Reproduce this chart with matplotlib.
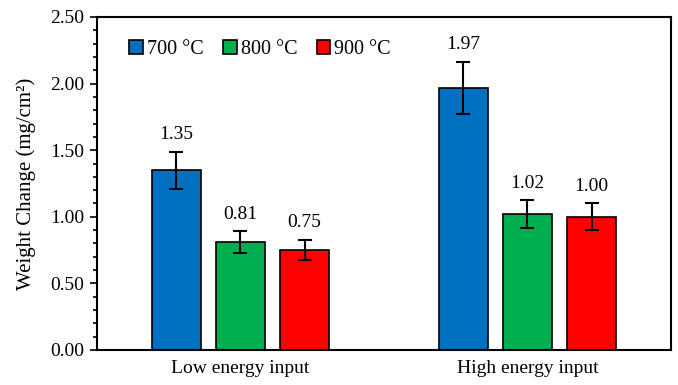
import matplotlib
matplotlib.use("Agg")
import matplotlib.pyplot as plt
import numpy as np
from matplotlib.ticker import MultipleLocator, FormatStrFormatter
from matplotlib.patches import Patch

plt.rcParams['font.family'] = ['Liberation Serif', 'DejaVu Serif']

groups = ["Low energy input", "High energy input"]
series = ["700 °C", "800 °C", "900 °C"]
values = {
    "700 °C": [1.35, 1.97],
    "800 °C": [0.81, 1.02],
    "900 °C": [0.75, 1.00],
}
errors = {
    "700 °C": [0.14, 0.195],
    "800 °C": [0.08, 0.105],
    "900 °C": [0.078, 0.10],
}
colors = ["#0070C0", "#00B050", "#FF0000"]

fig = plt.figure(figsize=(6.78, 3.85), dpi=100)
ax = fig.add_axes([97/678, 1-350/385, 574/678, 333/385])

x = np.arange(len(groups))
width = 0.174
offset = 0.223
for i, s in enumerate(series):
    xs = x + (i - 1) * offset
    ax.bar(xs, values[s], width, color=colors[i], edgecolor='black', linewidth=1.2, zorder=2)
    ax.errorbar(xs, values[s], yerr=errors[s], fmt='none', ecolor='black',
                elinewidth=1.5, capsize=5, capthick=1.5, zorder=3)
    for xi, v, e in zip(xs, values[s], errors[s]):
        ax.annotate(f"{v:.2f}", (xi, v + e), xytext=(0, 6), textcoords='offset points',
                    ha='center', va='bottom', fontsize=14)

ax.set_xlim(-0.5, 1.5)
ax.set_ylim(0, 2.5)
ax.yaxis.set_major_locator(MultipleLocator(0.5))
ax.yaxis.set_minor_locator(MultipleLocator(0.1))
ax.yaxis.set_major_formatter(FormatStrFormatter('%.2f'))
ax.set_xticks(x)
ax.set_xticklabels(groups, fontsize=14)
ax.tick_params(axis='x', length=0, pad=7)
ax.tick_params(axis='y', which='major', length=5, width=1.2, labelsize=14, direction='out', pad=4)
ax.tick_params(axis='y', which='minor', length=3, width=1.2, direction='out')
for sp in ax.spines.values():
    sp.set_linewidth(1.5)
ax.set_ylabel("Weight Change (mg/cm²)", fontsize=15, labelpad=10)

handles = [Patch(facecolor=c, edgecolor='black', linewidth=1.2) for c in colors]
ax.legend(handles, series, loc='upper left', bbox_to_anchor=(0.025, 0.985), ncol=3,
          frameon=False, fontsize=14.5, handlelength=0.65, handleheight=0.65,
          handletextpad=0.2, columnspacing=1.0)

fig.savefig("out.png", dpi=100)
